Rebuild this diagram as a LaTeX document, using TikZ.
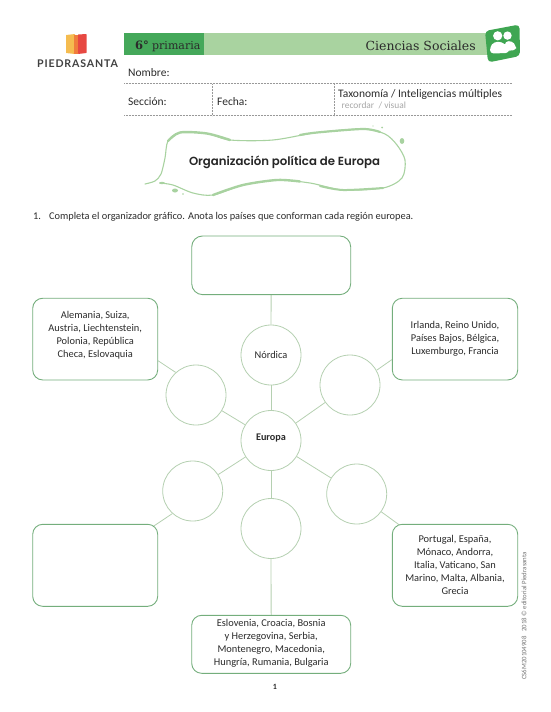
\documentclass[tikz,border=0pt]{standalone}
\usepackage{fontspec}
\setmainfont{Carlito}
\newfontfamily\slabfont{DejaVu Serif}
\newfontfamily\titlefont{Poppins SemiBold}
\newfontfamily\logofont[LetterSpace=8]{Lato Bold}
\usetikzlibrary{backgrounds}
\definecolor{boxgreen}{HTML}{74AE7C}
\definecolor{ringgreen}{HTML}{B5D0B1}
\definecolor{barlight}{HTML}{A9D3A0}
\definecolor{bardark}{HTML}{45A85A}
\definecolor{iconz}{HTML}{3FA652}
\definecolor{blobgreen}{HTML}{A8D2A0}
\definecolor{ink}{HTML}{2B2B2B}
\tikzset{
  x=1pt,y=-1pt,
  every node/.style={text=ink,inner sep=0pt},
  boxnode/.style={draw=boxgreen,line width=0.9pt,fill=white,rounded corners=10pt,minimum width=#1},
  ringnode/.style={draw=ringgreen,line width=0.8pt,fill=white,circle,minimum size=60pt},
  link/.style={draw=ringgreen,line width=0.8pt},
  boxtext/.style={align=center,font=\fontsize{10.4}{13}\selectfont},
  formtext/.style={anchor=base west,font=\fontsize{11.5}{13}\selectfont},
  rule/.style={draw=black!40,line width=0.5pt,dash pattern=on 0.6pt off 0.9pt},
  blobline/.style={draw=blobgreen,line cap=round,line join=round},
}
\begin{document}
\begin{tikzpicture}
\useasboundingbox (0,0) rectangle (550,712);
% logo
\fill[rounded corners=0.5pt,color={rgb,255:red,245;green,188;blue,80}] (66,35) -- (75,34) -- (75,54) -- (66,53) -- cycle;
\fill[color={rgb,255:red,240;green,125;blue,60}] (74,35) -- (78,35) -- (78,54) -- (74,54) -- cycle;
\fill[rounded corners=0.5pt,color={rgb,255:red,231;green,72;blue,66}] (78,34.5) -- (86.5,34) -- (86.5,53) -- (78,54) -- cycle;
\node[anchor=base,font=\logofont\fontsize{10.6}{12}\selectfont,text=black!75] (logo) at (77.5,67) {PIEDRASANTA};
% header bar
\fill[barlight] (124,33) rectangle (492,55);
\fill[bardark] (124,33) rectangle (204,55);
\node[anchor=base west,font=\slabfont\bfseries\fontsize{11.5}{13}\selectfont] (grade) at (135,49) {6°};
\node[anchor=base west,font=\slabfont\fontsize{11}{13}\selectfont] (level) at (152,49) {primaria};
\node[anchor=base east,font=\slabfont\fontsize{12.5}{14}\selectfont] (subject) at (476,50.5) {Ciencias Sociales};
% subject icon
\fill[iconz,rounded corners=4pt] (485,31) -- (519.5,24.5) -- (520,56) -- (488,62.5) -- cycle;
\fill[white] (497.7,35.8) circle (4.6);
\fill[white] (507.5,35.6) circle (4.2);
\fill[white,rounded corners=3pt] (505,41.5) -- (512,41) -- (516,46) -- (516,50) -- (505,51) -- cycle;
\fill[white,rounded corners=3.5pt] (494,41.8) -- (502,41.8) -- (509,48) -- (509,53) -- (490,53.5) -- (490,47) -- cycle;
% form
\node[formtext] (nombre) at (128,76) {Nombre:};
\node[formtext] (seccion) at (128,105) {Sección:};
\node[formtext] (fecha) at (217,105) {Fecha:};
\node[formtext] (taxo) at (338,97) {Taxonomía / Inteligencias múltiples};
\node[anchor=base west,font=\fontsize{9.4}{10}\selectfont,text=black!35] (tags) at (341.5,108.5) {recordar\ \ / visual};
\draw[rule] (124,83.5) -- (512,83.5);
\draw[rule] (124,115.7) -- (512,115.7);
\draw[rule] (212.7,84) -- (212.7,115.5);
\draw[rule] (334.3,84) -- (334.3,115.5);
% title bubble
\draw[blobline,line width=1.1pt] plot[smooth] coordinates {(145,184) (155,181) (161,174) (165,158) (168,141) (180,132.5) (207,133.5) (230,140) (273,140) (317,132.5) (363,129) (385,134) (397,145) (405,160) (402,178) (383,188) (343,190) (310,183) (277,180) (243,185) (213,195) (193,193) (173,185) (160,183)};
\draw[blobline,line width=2.4pt] plot[smooth] coordinates {(168,141) (180,132.5) (207,133.5) (230,140)};
\draw[blobline,line width=2.2pt] plot[smooth] coordinates {(300,135) (317,132.5) (363,129) (380,132)};
\draw[blobline,line width=2.4pt] plot[smooth] coordinates {(213,195) (243,185) (277,180) (300,181.5)};
\draw[blobline,line width=2pt] plot[smooth] coordinates {(320,186) (343,190) (383,188)};
\fill[blobgreen] (402,141) ellipse (2.3 and 3);
\fill[blobgreen] (175,190.5) ellipse (3 and 2);
\fill[blobgreen] (162,183) ellipse (3 and 1.2);
\fill[blobgreen] (382,127.5) circle (1);
\fill[blobgreen] (373,126) circle (0.6);
\fill[blobgreen] (183,194) circle (0.8);
\node[font=\titlefont\fontsize{11.75}{15}\selectfont,text=black!85] (title) at (284.5,162) {Organización política de Europa};
% instruction
\node[anchor=base west,font=\fontsize{10.35}{13}\selectfont] (num) at (33,219) {1.};
\node[anchor=base west,font=\fontsize{10.35}{13}\selectfont] (instr) at (49,219) {Completa el organizador gráfico. Anota los países que conforman cada región europea.};
% boxes
\node[boxnode=159pt,minimum height=58.7pt,rounded corners=11pt] (top) at (271.2,265.3) {};
\node[boxnode=125pt,minimum height=81.7pt] (lbox) at (95.2,339.1) {};
\node[boxnode=125.4pt,minimum height=81.7pt] (rbox) at (455,339.1) {};
\node[boxnode=125pt,minimum height=82pt] (blbox) at (95.2,565.3) {};
\node[boxnode=125.4pt,minimum height=82pt] (brbox) at (455,565.3) {};
\node[boxnode=159pt,minimum height=58pt] (bot) at (271.2,644.3) {};
% circles
\node[ringnode] (eu) at (271,440.5) {};
\node[ringnode] (nord) at (271,355) {};
\node[ringnode] (lu) at (196,395) {};
\node[ringnode] (ru) at (350,385) {};
\node[ringnode] (ll) at (192.7,491) {};
\node[ringnode] (rl) at (356.7,494) {};
\node[ringnode] (bc) at (271,528.5) {};
% connectors
\begin{scope}[on background layer]
\draw[link] (top) -- (nord);
\draw[link] (nord) -- (eu);
\draw[link] (eu) -- (bc);
\draw[link] (bc) -- (bot);
\draw[link] (eu) -- (lu);
\draw[link] (eu) -- (ru);
\draw[link] (eu) -- (ll);
\draw[link] (eu) -- (rl);
\draw[link] (lu.132) -- (lbox.341.6);
\draw[link] (ru.29) -- (rbox.198.4);
\draw[link,shorten >=-5pt] (ll.228) -- (blbox);
\draw[link,shorten >=-5pt] (rl) -- (brbox);
\end{scope}
% labels
\node[boxtext] (nordt) at (nord) {Nórdica};
\node[boxtext,font=\bfseries\fontsize{10.2}{13}\selectfont] (eut) at (271,438) {Europa};
\node[boxtext] (lboxt) at (95.2,335.5) {Alemania, Suiza,\\Austria, Liechtenstein,\\Polonia, República\\Checa, Eslovaquia};
\node[boxtext] (rboxt) at (rbox) {Irlanda, Reino Unido,\\Países Bajos, Bélgica,\\Luxemburgo, Francia};
\node[boxtext] (brboxt) at (brbox) {Portugal, España,\\Mónaco, Andorra,\\Italia, Vaticano, San\\Marino, Malta, Albania,\\Grecia};
\node[boxtext] (bott) at (271.2,643.5) {Eslovenia, Croacia, Bosnia\\y Herzegovina, Serbia,\\Montenegro, Macedonia,\\Hungría, Rumania, Bulgaria};
% footer
\node[font=\bfseries\fontsize{8}{10}\selectfont] (page) at (275,687) {1};
\node[rotate=90,anchor=west,font=\fontsize{6.8}{8}\selectfont,text=black!55] (code) at (524,680) {CS6M20104908\ \ \ 2018 © editorial Piedrasanta};
\end{tikzpicture}
\end{document}
